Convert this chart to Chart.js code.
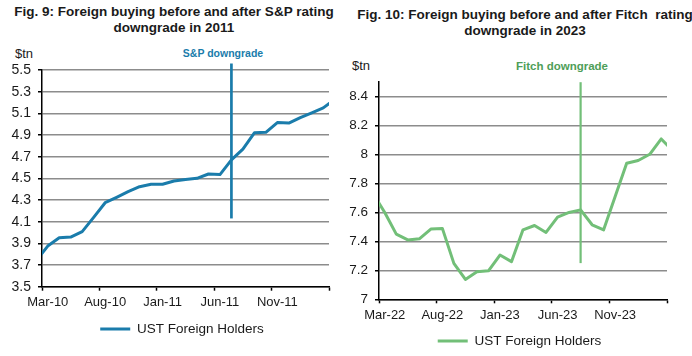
<!DOCTYPE html>
<html><head><meta charset="utf-8">
<script src="https://cdn.jsdelivr.net/npm/chart.js@4.4.1/dist/chart.umd.min.js"></script>
<style>
html,body{margin:0;padding:0;width:692px;height:356px;overflow:hidden;background:#fff;font-family:'Liberation Sans',Arial,sans-serif;color:#1a1a1a}
.abs{position:absolute;white-space:pre}
.title{font-weight:bold;font-size:13.5px;line-height:16px;text-align:center;transform:translateX(-50%)}
.ctr{transform:translate(-50%,-50%)}
.unit{font-size:13px;line-height:13px;transform:translateY(-50%)}
canvas{position:absolute;top:0}
</style></head>
<body>
<div class="abs title" style="left:174px;top:4px">Fig. 9: Foreign buying before and after S&amp;P rating
downgrade in 2011</div>
<div class="abs title" style="left:525px;top:7px">Fig. 10: Foreign buying before and after Fitch  rating
downgrade in 2023</div>
<div class="abs unit" style="left:15px;top:52.5px">$tn</div>
<div class="abs unit" style="left:352px;top:64.5px">$tn</div>
<div class="abs ctr" style="left:223px;top:52.5px;font-weight:bold;font-size:10.5px;line-height:11px;color:#1a7cab">S&amp;P downgrade</div>
<div class="abs ctr" style="left:562px;top:65.5px;font-weight:bold;font-size:11.5px;line-height:12px;color:#4e9e58">Fitch downgrade</div>
<canvas id="c1" width="366" height="356" style="left:0"></canvas>
<canvas id="c2" width="346" height="376" style="left:346px"></canvas>
<script>
// ---- Fig. 9 data (US$ tn, monthly) ----
const spMonths = ['Feb-10','Mar-10','Apr-10','May-10','Jun-10','Jul-10','Aug-10','Sep-10','Oct-10','Nov-10','Dec-10',
  'Jan-11','Feb-11','Mar-11','Apr-11','May-11','Jun-11','Jul-11','Aug-11','Sep-11','Oct-11','Nov-11','Dec-11',
  'Jan-12','Feb-12','Mar-12','Apr-12'];
const spValues = [3.74,3.875,3.952,3.958,4.008,4.14,4.275,4.325,4.377,4.423,4.445,
  4.445,4.475,4.49,4.50,4.54,4.535,4.67,4.77,4.92,4.925,5.015,5.01,
  5.06,5.105,5.15,5.23];
const spTickMonths = ['Mar-10','Aug-10','Jan-11','Jun-11','Nov-11','Apr-12'];
const spTickLabels = ['Mar-10','Aug-10','Jan-11','Jun-11','Nov-11',''];
const spYTicks = [3.5,3.7,3.9,4.1,4.3,4.5,4.7,4.9,5.1,5.3,5.5];
const spDowngradeMonth = 'Jul-11';
const spDowngradeRange = [4.13, 5.56];

// ---- Fig. 10 data (US$ tn, monthly) ----
const fiMonths = ['Feb-22','Mar-22','Apr-22','May-22','Jun-22','Jul-22','Aug-22','Sep-22','Oct-22','Nov-22','Dec-22',
  'Jan-23','Feb-23','Mar-23','Apr-23','May-23','Jun-23','Jul-23','Aug-23','Sep-23','Oct-23','Nov-23','Dec-23',
  'Jan-24','Feb-24','Mar-24','Apr-24'];
const fiValues = [7.73,7.60,7.45,7.41,7.418,7.485,7.49,7.248,7.137,7.19,7.197,
  7.306,7.26,7.48,7.51,7.462,7.568,7.60,7.618,7.515,7.48,7.71,7.94,
  7.959,8.002,8.108,8.026];
const fiTickMonths = ['Mar-22','Aug-22','Jan-23','Jun-23','Nov-23','Apr-24'];
const fiTickLabels = ['Mar-22','Aug-22','Jan-23','Jun-23','Nov-23',''];
const fiYTicks = [7,7.2,7.4,7.6,7.8,8,8.2,8.4];
const fiDowngradeMonth = 'Aug-23';
const fiDowngradeRange = [7.25, 8.5];

const seriesName = 'UST Foreign Holders';
const MON = ['Jan','Feb','Mar','Apr','May','Jun','Jul','Aug','Sep','Oct','Nov','Dec'];
function absMonth(lbl){ const [m,y] = lbl.split('-'); return (2000 + Number(y)) * 12 + MON.indexOf(m); }

Chart.defaults.font.family = "'Liberation Sans', Arial, sans-serif";
Chart.defaults.color = '#1a1a1a';

function makeChart(id, o){
  const origin = absMonth(o.tickMonths[0]);
  const tickX = o.tickMonths.map(m => absMonth(m) - origin);
  const pts = o.months.map((m,i) => ({x: absMonth(m) - origin + 0.5, y: o.values[i]}));
  const dx = absMonth(o.downMonth) - origin + 0.5;
  return new Chart(document.getElementById(id), {
    type: 'line',
    data: { datasets: [
      { label: seriesName, data: pts, borderColor: o.color, backgroundColor: o.color, borderWidth: 3,
        pointRadius: 0, tension: 0, clip: 0, borderJoinStyle: 'round' },
      { label: 'downgrade', data: [{x: dx, y: o.downRange[0]}, {x: dx, y: o.downRange[1]}],
        borderColor: o.color, borderWidth: o.downWidth, pointRadius: 0, clip: false }
    ]},
    options: {
      responsive: false, animation: false, events: [],
      layout: { padding: o.padding },
      plugins: {
        tooltip: {enabled: false},
        title: {display: false},
        legend: { position: 'bottom', align: 'center',
          labels: { boxWidth: 30, boxHeight: 3, padding: 10, font: {size: 13.5}, color: '#1a1a1a',
            generateLabels: (chart) => Chart.defaults.plugins.legend.labels.generateLabels(chart)
              .filter(it => it.datasetIndex === 0).map(it => Object.assign(it, {lineWidth: 0})) } }
      },
      scales: {
        x: { type: 'linear', min: tickX[0], max: tickX[tickX.length-1],
          afterBuildTicks: s => { s.ticks = tickX.map(v => ({value: v})); },
          ticks: { callback: (v, i) => o.tickLabels[i], autoSkip: false, maxRotation: 0,
            labelOffset: 5.75, padding: o.xPad, font: {size: 13} },
          grid: { drawOnChartArea: false, drawTicks: true, tickLength: 4, tickColor: '#000', tickWidth: 1.5 },
          border: { color: '#000', width: 1.5 },
          afterFit: s => { s.height = o.xHeight; } },
        y: { type: 'linear', min: o.yMin, max: o.yMax,
          afterBuildTicks: s => { s.ticks = o.yTicks.map(v => ({value: v})); },
          ticks: { callback: v => String(v), padding: 7, font: {size: o.yFont}, autoSkip: false },
          grid: { color: '#8c8c8c', lineWidth: 1.5, tickLength: 4, tickColor: '#000', tickWidth: 1.5 },
          border: { color: '#000', width: 1.5 },
          afterFit: s => { s.width = o.yWidth; } },
        // empty spacer on the right so the legend centres like the original
        yR: { type: 'linear', position: 'right', display: true,
          grid: { display: false }, border: { display: false }, ticks: { display: false },
          afterFit: s => { s.width = o.rightGap; } }
      }
    }
  });
}

makeChart('c1', { months: spMonths, values: spValues, tickMonths: spTickMonths, tickLabels: spTickLabels,
  yTicks: spYTicks, yMin: 3.5, yMax: 5.5, downMonth: spDowngradeMonth, downRange: spDowngradeRange,
  color: '#1a7cab', downWidth: 2.7, padding: {left: 8, right: 10, top: 70, bottom: 10.25},
  yWidth: 34, rightGap: 27, xHeight: 25.55, xPad: 3.5, yFont: 14 });

makeChart('c2', { months: fiMonths, values: fiValues, tickMonths: fiTickMonths, tickLabels: fiTickLabels,
  yTicks: fiYTicks, yMin: 7, yMax: 8.5, downMonth: fiDowngradeMonth, downRange: fiDowngradeRange,
  color: '#72bf78', downWidth: 2.2, padding: {left: 2, right: 1, top: 82.2, bottom: 18.25},
  yWidth: 31, rightGap: 24, xHeight: 24.95, xPad: 4, yFont: 13.5 });
</script>
</body></html>
